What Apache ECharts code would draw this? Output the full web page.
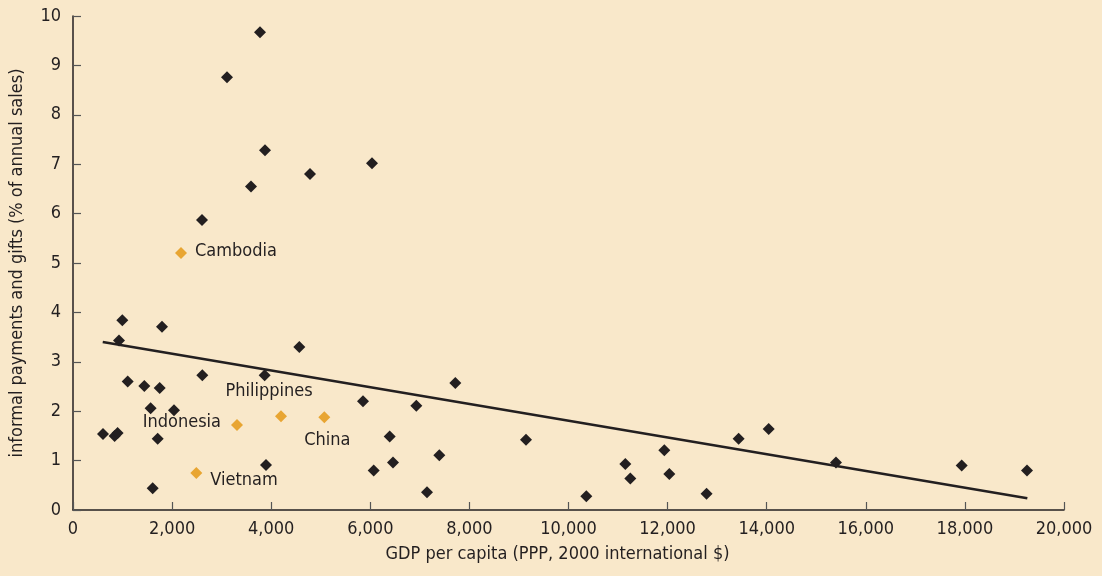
<!DOCTYPE html>
<html>
<head>
<meta charset="utf-8">
<script src="https://cdn.jsdelivr.net/npm/echarts@6/dist/echarts.min.js"></script>
<style>
html,body{margin:0;padding:0;background:#F9E8CA;}
#c{width:1102px;height:576px;}
</style>
</head>
<body>
<div id="c"></div>
<script>
// GDP per capita (x) and informal payments % (y) for other countries
var otherX = [3774,3108,3875,3592,4783,6034,2603,995,1796,928,4567,1104,1439,1749,2610,3868,7716,5853,6929,1567,2038,605,840,900,1709,6391,7393,6458,3895,6068,7144,1608,9142,10359,11147,11248,11934,12035,12786,13434,14040,15398,17935,19253];
var otherY = [9.67,8.76,7.28,6.55,6.80,7.02,5.87,3.84,3.71,3.43,3.30,2.60,2.51,2.47,2.73,2.73,2.57,2.20,2.11,2.06,2.02,1.54,1.50,1.56,1.44,1.49,1.11,0.96,0.91,0.80,0.36,0.44,1.42,0.28,0.93,0.64,1.21,0.73,0.33,1.44,1.64,0.96,0.90,0.80];
// highlighted countries
var hlNames = ['Cambodia','Philippines','Indonesia','China','Vietnam'];
var hlX = [2180,4198,3310,5072,2489];
var hlY = [5.20,1.90,1.72,1.88,0.75];
// fitted trend line end points
var trendX = [600,19260];
var trendY = [3.40,0.24];

var FONT = "'Liberation Sans Narrow','DejaVu Sans Condensed','Roboto',sans-serif";
var TXT = '#231f20';

var otherData = otherX.map(function(x,i){return [x, otherY[i]];});
var labelCfg = {
  Cambodia:{position:'right',distance:8,offset:[0,-2]},
  Philippines:{position:'top',distance:10,offset:[-12,0]},
  Indonesia:{position:'left',distance:10,offset:[0,-3]},
  China:{position:'bottom',distance:8,offset:[3,0]},
  Vietnam:{position:'right',distance:8,offset:[0,7]}
};
var hlData = hlNames.map(function(n,i){
  var c = labelCfg[n];
  return {name:n, value:[hlX[i],hlY[i]], label:{show:true, formatter:n, position:c.position, distance:c.distance, offset:c.offset}};
});
var trendData = trendX.map(function(x,i){return [x, trendY[i]];});

var chart = echarts.init(document.getElementById('c'), null, {renderer:'canvas'});
chart.setOption({
  backgroundColor:'#F9E8CA',
  animation:false,
  grid:{left:73, right:38, top:16, bottom:66, containLabel:false, outerBoundsMode:'none'},
  xAxis:{
    type:'value', min:0, max:20000, interval:2000,
    name:'GDP per capita (PPP, 2000 international $)',
    nameLocation:'middle', nameGap:35,
    nameTextStyle:{fontFamily:FONT, fontSize:18, color:TXT, padding:[0,22,0,0]},
    axisLine:{show:true, onZero:false, lineStyle:{color:TXT, width:1.5}},
    axisTick:{show:true, inside:true, length:8, lineStyle:{color:'#555', width:1.2}},
    axisLabel:{fontFamily:FONT, fontSize:18, color:TXT, margin:10,
      formatter:function(v){return v.toLocaleString('en-US');}},
    splitLine:{show:false}
  },
  yAxis:{
    type:'value', min:0, max:10, interval:1,
    name:'informal payments and gifts (% of annual sales)',
    nameLocation:'middle', nameGap:47, nameRotate:90,
    nameTextStyle:{fontFamily:FONT, fontSize:18, color:TXT},
    axisLine:{show:true, onZero:false, lineStyle:{color:TXT, width:1.5}},
    axisTick:{show:true, inside:true, length:8, lineStyle:{color:'#555', width:1.2}},
    axisLabel:{fontFamily:FONT, fontSize:18, color:TXT, margin:12},
    splitLine:{show:false}
  },
  series:[
    {
      type:'line', data:trendData, symbol:'none', silent:true,
      lineStyle:{color:TXT, width:2.5, opacity:1}, z:1
    },
    {
      type:'scatter', data:otherData, symbol:'diamond', symbolSize:12,
      itemStyle:{color:TXT, opacity:1}, z:3
    },
    {
      type:'scatter', data:hlData, symbol:'diamond', symbolSize:12,
      itemStyle:{color:'#E8A532', opacity:1}, z:3,
      label:{fontFamily:FONT, fontSize:18, color:TXT, opacity:1}
    }
  ]
});
</script>
</body>
</html>
